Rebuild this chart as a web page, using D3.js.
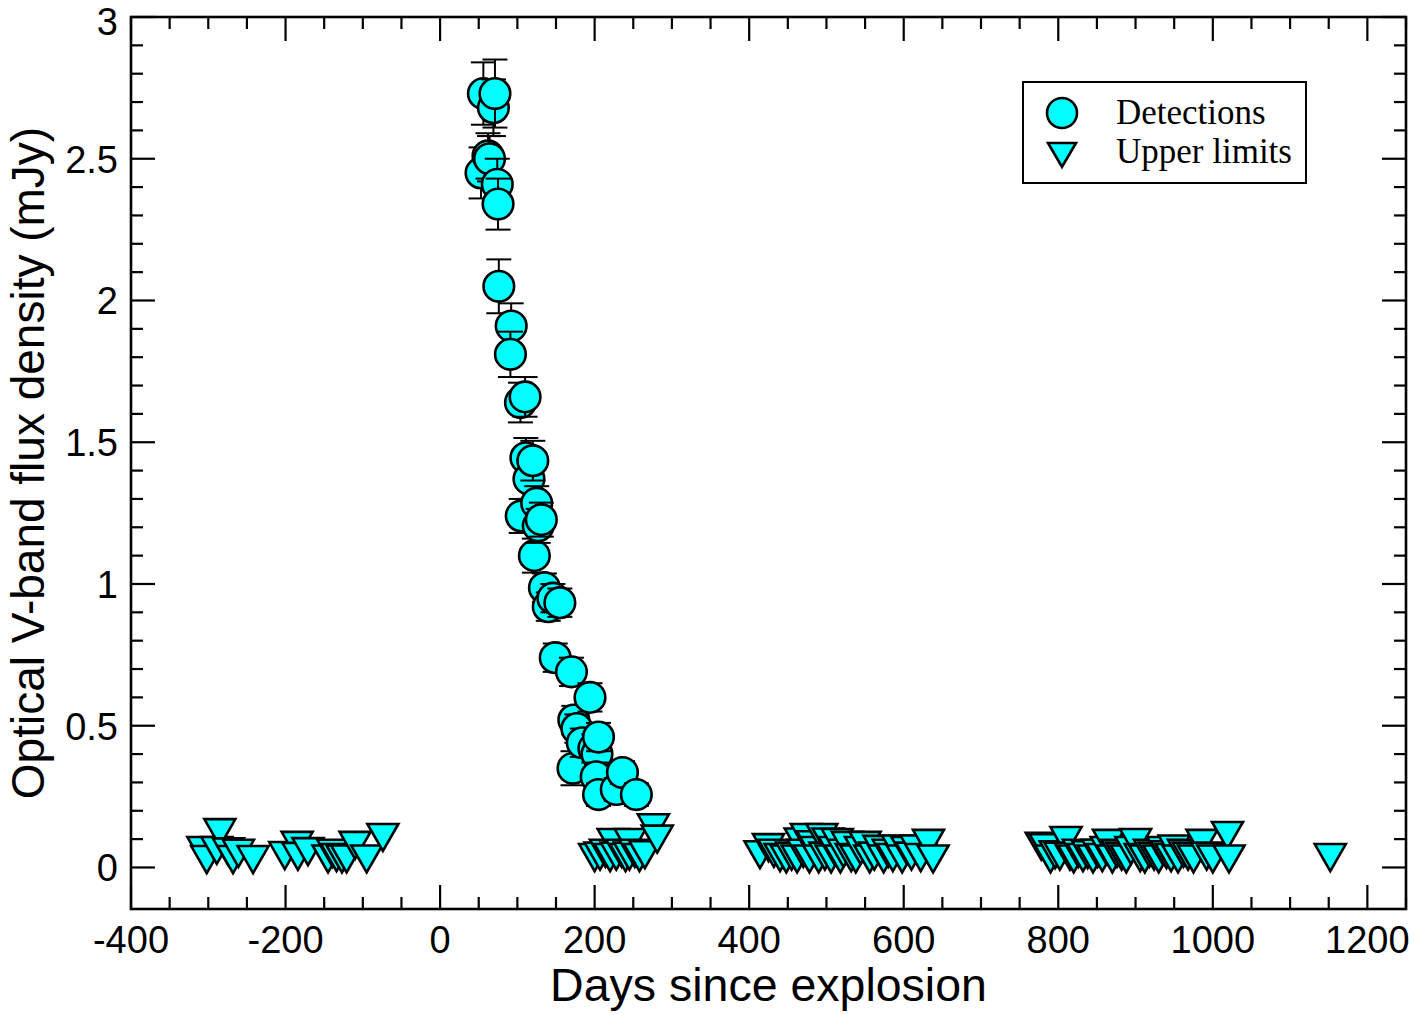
<!DOCTYPE html>
<html><head><meta charset="utf-8">
<script src="https://cdnjs.cloudflare.com/ajax/libs/d3/7.8.5/d3.min.js"></script>
<style>html,body{margin:0;padding:0;background:#fff;}</style>
</head><body>
<svg id="chart" width="1417" height="1015"></svg>
<script>
// Detections: days, flux (mJy), error
const detDays = [53,56,69,71,62,64,74,75,76,92,91,104,110,105,111,115,120,122,125,127,131,135,140,146,155,149,170,173,177,172,184,194,199,203,205,202,205,228,236,254];
const detFlux = [2.45,2.73,2.68,2.73,2.51,2.50,2.41,2.34,2.05,1.91,1.81,1.64,1.66,1.24,1.445,1.37,1.435,1.10,1.285,1.205,1.227,0.987,0.92,0.95,0.934,0.74,0.69,0.52,0.49,0.35,0.44,0.60,0.42,0.40,0.46,0.32,0.257,0.275,0.335,0.257];
const detErr  = [0.09,0.11,0.10,0.12,0.08,0.08,0.09,0.09,0.095,0.08,0.08,0.07,0.07,0.06,0.07,0.07,0.07,0.06,0.06,0.06,0.06,0.05,0.05,0.05,0.05,0.05,0.05,0.05,0.05,0.06,0.05,0.05,0.05,0.05,0.05,0.05,0.04,0.04,0.04,0.04];
// Upper limits: days, flux (mJy)
const ulDays = [-307,-302,-289,-285,-274,-268,-261,-242,
  -201,-185,-184,-171,-145,-139,-134,-127,-121,-110,-95,-74,
  200,207,214,224,220,228,235,240,246,245,252,258,265,276,281,
  414,425,432,440,448,455,462,466,470,474,478,482,486,490,494,498,502,506,510,514,518,522,527,532,538,544,550,556,562,568,574,580,586,592,598,604,610,616,622,632,638,
  778,783,790,796,802,810,815,820,826,832,838,845,851,857,862,865,870,876,882,888,894,900,906,912,918,924,930,935,940,946,950,955,962,968,975,986,992,1000,1019,1021,1152];
const ulFlux = [0.06,0.028,0.06,0.123,0.055,0.028,0.05,0.028,
  0.042,0.078,0.039,0.056,0.03,0.05,0.035,0.03,0.03,0.078,0.03,0.106,
  0.035,0.04,0.05,0.088,0.035,0.04,0.05,0.035,0.088,0.04,0.05,0.035,0.045,0.14,0.10,
  0.045,0.07,0.05,0.035,0.03,0.04,0.03,0.09,0.05,0.106,0.03,0.08,0.06,0.03,0.106,0.04,0.09,0.03,0.06,0.088,0.03,0.05,0.078,0.035,0.03,0.06,0.078,0.03,0.04,0.064,0.03,0.05,0.035,0.065,0.03,0.06,0.04,0.065,0.035,0.085,0.03,
  0.075,0.07,0.03,0.045,0.04,0.095,0.04,0.03,0.05,0.035,0.045,0.03,0.05,0.035,0.06,0.085,0.03,0.05,0.04,0.03,0.06,0.088,0.035,0.03,0.05,0.04,0.03,0.06,0.045,0.035,0.065,0.03,0.05,0.04,0.03,0.085,0.04,0.03,0.113,0.03,0.035];
const xMajor = [-400,-200,0,200,400,600,800,1000,1200];
const xLabels = ["-400","-200","0","200","400","600","800","1000","1200"];
const yMajor = [0,0.5,1,1.5,2,2.5,3];
const yLabels = ["0","0.5","1","1.5","2","2.5","3"];
const legendLabels = ["Detections","Upper limits"];

const svg = d3.select("#chart");
const L=131, R=1406, T=17, B=909;
const x = d3.scaleLinear().domain([-400,1250]).range([L,R]);
const y = d3.scaleLinear().domain([-0.15,3]).range([B+1,T]);
const fill = "#00ffff";
const sansFont = "'Liberation Sans', Arial, Helvetica, sans-serif";

// ticks
const xMinor = d3.range(-400,1251,50).filter(v=>xMajor.indexOf(v)<0);
const yMinor = d3.range(0,31,1).map(v=>v/10).filter(v=>yMajor.indexOf(v)<0);
const tk = svg.append("g").attr("stroke","#000").attr("stroke-width",2.2);
xMajor.forEach(v=>{
  tk.append("line").attr("x1",x(v)).attr("x2",x(v)).attr("y1",B).attr("y2",B-24);
  tk.append("line").attr("x1",x(v)).attr("x2",x(v)).attr("y1",T).attr("y2",T+24);
});
xMinor.forEach(v=>{
  tk.append("line").attr("x1",x(v)).attr("x2",x(v)).attr("y1",B).attr("y2",B-12);
  tk.append("line").attr("x1",x(v)).attr("x2",x(v)).attr("y1",T).attr("y2",T+12);
});
yMajor.forEach(v=>{
  tk.append("line").attr("y1",y(v)).attr("y2",y(v)).attr("x1",L).attr("x2",L+24);
  tk.append("line").attr("y1",y(v)).attr("y2",y(v)).attr("x1",R).attr("x2",R-24);
});
yMinor.forEach(v=>{
  tk.append("line").attr("y1",y(v)).attr("y2",y(v)).attr("x1",L).attr("x2",L+12);
  tk.append("line").attr("y1",y(v)).attr("y2",y(v)).attr("x1",R).attr("x2",R-12);
});

// tick labels
xMajor.forEach((v,i)=>{
  svg.append("text").attr("x",x(v)).attr("y",953).attr("text-anchor","middle")
    .attr("font-family",sansFont).attr("font-size",38).text(xLabels[i]);
});
yMajor.forEach((v,i)=>{
  svg.append("text").attr("x",118).attr("y",Math.max(y(v)+14,35)).attr("text-anchor","end")
    .attr("font-family",sansFont).attr("font-size",38).text(yLabels[i]);
});

// axis titles
svg.append("text").attr("x",(L+R)/2).attr("y",1001).attr("text-anchor","middle")
  .attr("font-family",sansFont).attr("font-size",46.5).text("Days since explosion");
svg.append("text").attr("transform",`translate(44,${(T+B)/2}) rotate(-90)`).attr("text-anchor","middle")
  .attr("font-family",sansFont).attr("font-size",46).text("Optical V-band flux density (mJy)");

// data
const plot = svg.append("g");
const tri = "M-15.5,-13.5L15.5,-13.5L0,13.5Z";
detDays.forEach((d,i)=>{
  const g = plot.append("g");
  const cx = x(d), yt = y(detFlux[i]+detErr[i]), yb = y(detFlux[i]-detErr[i]);
  g.append("line").attr("x1",cx).attr("x2",cx).attr("y1",yt).attr("y2",yb).attr("stroke","#000").attr("stroke-width",2);
  g.append("line").attr("x1",cx-12.5).attr("x2",cx+12.5).attr("y1",yt).attr("y2",yt).attr("stroke","#000").attr("stroke-width",2);
  g.append("line").attr("x1",cx-12.5).attr("x2",cx+12.5).attr("y1",yb).attr("y2",yb).attr("stroke","#000").attr("stroke-width",2);
  g.append("circle").attr("cx",cx).attr("cy",y(detFlux[i])).attr("r",15.3)
    .attr("fill",fill).attr("stroke","#000").attr("stroke-width",2.6);
});
ulDays.forEach((d,i)=>{
  plot.append("path").attr("d",tri).attr("transform",`translate(${x(d)},${y(ulFlux[i])})`)
    .attr("fill",fill).attr("stroke","#000").attr("stroke-width",2.6).attr("stroke-linejoin","miter");
});

// frame
svg.append("rect").attr("x",L).attr("y",T).attr("width",R-L).attr("height",B-T)
  .attr("fill","none").attr("stroke","#000").attr("stroke-width",2.6);

// legend
const lg = svg.append("g");
lg.append("rect").attr("x",1023).attr("y",82).attr("width",283).attr("height",101)
  .attr("fill","#fff").attr("stroke","#000").attr("stroke-width",2);
lg.append("circle").attr("cx",1062).attr("cy",113).attr("r",15).attr("fill",fill).attr("stroke","#000").attr("stroke-width",2.6);
lg.append("path").attr("d","M-14,-12L14,-12L0,12Z").attr("transform","translate(1062,155)")
  .attr("fill",fill).attr("stroke","#000").attr("stroke-width",2.6);
legendLabels.forEach((t,i)=>{
  lg.append("text").attr("x",1116).attr("y",[124,163][i]).attr("font-family","'Liberation Serif', 'Times New Roman', serif")
    .attr("font-size",35).text(t);
});
</script>
</body></html>
